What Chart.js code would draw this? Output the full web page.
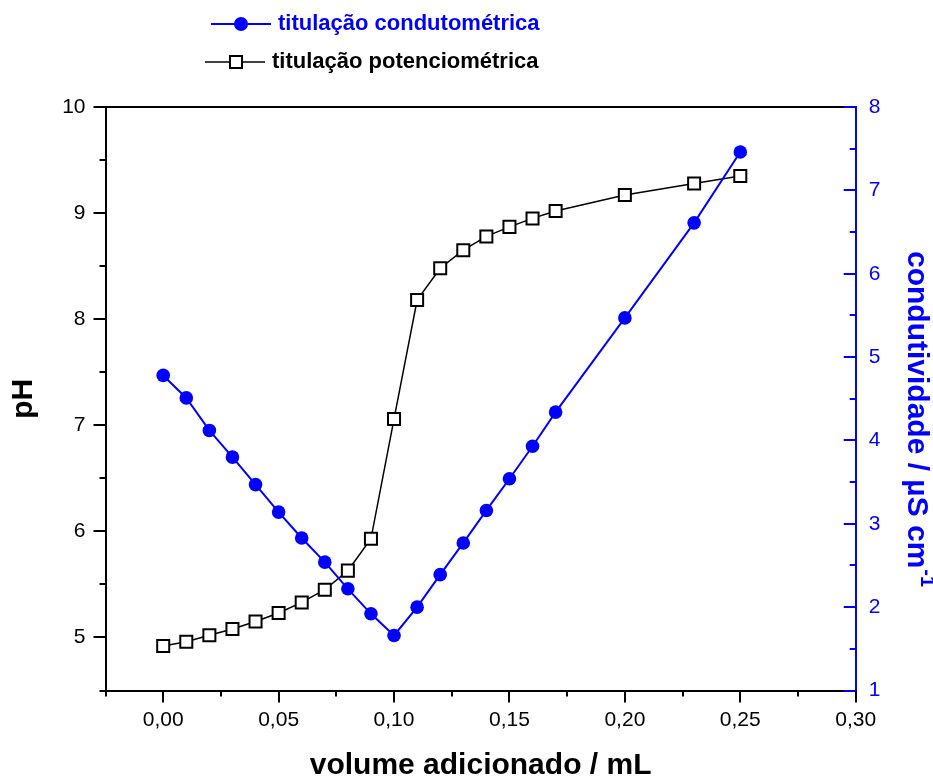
<!DOCTYPE html>
<html>
<head>
<meta charset="utf-8">
<script src="https://cdn.jsdelivr.net/npm/chart.js@4.4.1/dist/chart.umd.min.js"></script>
<style>
  html, body { margin: 0; padding: 0; background: #fff; }
  canvas { display: block; }
</style>
</head>
<body>
<canvas id="titulacao" width="933" height="779"></canvas>
<script>
// volume of titrant (mL) and the two measured curves
const volume = [0.00, 0.01, 0.02, 0.03, 0.04, 0.05, 0.06, 0.07, 0.08, 0.09, 0.10,
  0.11, 0.12, 0.13, 0.14, 0.15, 0.16, 0.17, 0.20, 0.23, 0.25];
const ph = [4.92, 4.96, 5.02, 5.08, 5.15, 5.23, 5.33, 5.45, 5.63, 5.93, 7.06,
  8.18, 8.48, 8.65, 8.78, 8.87, 8.95, 9.02, 9.17, 9.28, 9.35];
const condutividade = [4.78, 4.51, 4.12, 3.80, 3.47, 3.14, 2.83, 2.54, 2.22, 1.92, 1.66,
  2.00, 2.39, 2.77, 3.16, 3.54, 3.93, 4.34, 5.47, 6.61, 7.46];

// labelled ticks
const volumeTicks = [0, 0.05, 0.10, 0.15, 0.20, 0.25, 0.30];
const phTicks = [5, 6, 7, 8, 9, 10];
const condTicks = [1, 2, 3, 4, 5, 6, 7, 8];

const BLUE = "#0000ff";
const FONT = "'Liberation Sans', Arial, sans-serif";

function hasTick(list, v) {
  return list.some((t) => Math.abs(t - v) < 1e-9);
}

// legend: line - marker - line, then the label
const lineLegend = {
  id: "lineLegend",
  afterDraw(chart) {
    const ctx = chart.ctx;
    const rows = [
      { x0: 211, x1: 271, mx: 241, y: 24, tx: 278 },
      { x0: 205, x1: 265, mx: 236, y: 62, tx: 272 },
    ];
    ctx.save();
    chart.data.datasets.forEach((ds, i) => {
      const r = rows[i];
      ctx.strokeStyle = ds.borderColor;
      ctx.lineWidth = ds.borderWidth;
      ctx.beginPath();
      ctx.moveTo(r.x0, r.y);
      ctx.lineTo(r.x1, r.y);
      ctx.stroke();
      if (ds.pointStyle === "rect") {
        ctx.fillStyle = "#fff";
        ctx.strokeStyle = ds.pointBorderColor;
        ctx.lineWidth = 2;
        ctx.fillRect(r.mx - 6, r.y - 6, 12, 12);
        ctx.strokeRect(r.mx - 6, r.y - 6, 12, 12);
      } else {
        ctx.fillStyle = ds.pointBackgroundColor;
        ctx.beginPath();
        ctx.arc(r.mx, r.y, 7, 0, Math.PI * 2);
        ctx.fill();
      }
      ctx.fillStyle = ds.borderColor;
      ctx.font = "bold 22px " + FONT;
      ctx.textBaseline = "middle";
      ctx.textAlign = "left";
      ctx.fillText(ds.label, r.tx, r.y);
    });
    ctx.restore();
  },
};

// top frame line, tick marks and the right axis title
const frame = {
  id: "frame",
  afterDraw(chart) {
    const { ctx, chartArea: a, scales } = chart;
    ctx.save();
    ctx.lineWidth = 2;
    ctx.strokeStyle = "#000";
    ctx.beginPath();
    ctx.moveTo(a.left, a.top);
    ctx.lineTo(a.right, a.top);
    ctx.stroke();

    // x ticks point down
    scales.x.ticks.forEach((t) => {
      const px = Math.round(scales.x.getPixelForValue(t.value));
      const len = t.label ? 12 : 6;
      ctx.beginPath();
      ctx.moveTo(px, a.bottom);
      ctx.lineTo(px, a.bottom + len);
      ctx.stroke();
    });
    // pH ticks point left
    scales.y.ticks.forEach((t) => {
      const py = Math.round(scales.y.getPixelForValue(t.value));
      const len = t.label ? 12 : 6;
      ctx.beginPath();
      ctx.moveTo(a.left - len, py);
      ctx.lineTo(a.left, py);
      ctx.stroke();
    });
    // conductivity ticks point into the plot
    ctx.strokeStyle = BLUE;
    scales.y1.ticks.forEach((t) => {
      const py = Math.round(scales.y1.getPixelForValue(t.value));
      const len = t.label ? 12 : 6;
      ctx.beginPath();
      ctx.moveTo(a.right - len, py);
      ctx.lineTo(a.right, py);
      ctx.stroke();
    });

    // right title with the superscript unit
    ctx.translate(916, 251);
    ctx.rotate(Math.PI / 2);
    ctx.fillStyle = BLUE;
    ctx.textAlign = "left";
    ctx.textBaseline = "middle";
    ctx.font = "bold 30px " + FONT;
    const main = "condutividade / \u00b5S cm";
    ctx.fillText(main, 0, 0);
    const w = ctx.measureText(main).width;
    ctx.font = "bold 20px " + FONT;
    ctx.fillText("-1", w + 1, -11);
    ctx.restore();
  },
};

new Chart(document.getElementById("titulacao"), {
  type: "scatter",
  data: {
    datasets: [
      {
        label: "titulação condutométrica",
        data: volume.map((v, i) => ({ x: v, y: condutividade[i] })),
        yAxisID: "y1",
        showLine: true,
        borderColor: BLUE,
        borderWidth: 2,
        pointStyle: "circle",
        pointRadius: 6.8,
        pointBackgroundColor: BLUE,
        pointBorderColor: BLUE,
        pointBorderWidth: 0,
      },
      {
        label: "titulação potenciométrica",
        data: volume.map((v, i) => ({ x: v, y: ph[i] })),
        yAxisID: "y",
        showLine: true,
        borderColor: "#000",
        borderWidth: 1.5,
        pointStyle: "rect",
        pointRadius: 8.5,
        pointBackgroundColor: "#fff",
        pointBorderColor: "#000",
        pointBorderWidth: 2,
      },
    ],
  },
  options: {
    responsive: false,
    animation: false,
    layout: { padding: { top: 107, left: 0, right: 0, bottom: 0 } },
    plugins: {
      legend: { display: false },
      tooltip: { enabled: false },
    },
    scales: {
      x: {
        type: "linear",
        min: -0.025,
        max: 0.3,
        grid: { display: false, drawTicks: false },
        border: { display: true, color: "#000", width: 2 },
        ticks: {
          stepSize: 0.025,
          autoSkip: false,
          maxRotation: 0,
          padding: 17,
          color: "#000",
          font: { family: FONT, size: 21 },
          callback: (v) => (hasTick(volumeTicks, v) ? v.toFixed(2).replace(".", ",") : ""),
        },
        title: {
          display: true,
          text: "volume adicionado / mL",
          color: "#000",
          font: { family: FONT, size: 30, weight: "bold", lineHeight: 0.9 },
          padding: { top: 0, bottom: 0 },
        },
        afterFit: (s) => { s.height = 88.5; },
      },
      y: {
        position: "left",
        min: 4.5,
        max: 10,
        grid: { display: false, drawTicks: false },
        border: { display: true, color: "#000", width: 2 },
        ticks: {
          stepSize: 0.5,
          autoSkip: false,
          padding: 20,
          color: "#000",
          font: { family: FONT, size: 21 },
          callback: (v) => (hasTick(phTicks, v) ? String(v) : ""),
        },
        title: {
          display: true,
          text: "pH",
          color: "#000",
          font: { family: FONT, size: 30, weight: "bold" },
          padding: { top: 6, bottom: 0 },
        },
        afterFit: (s) => { s.width = 105.5; },
      },
      y1: {
        position: "right",
        min: 1,
        max: 8,
        grid: { display: false, drawTicks: false },
        border: { display: true, color: BLUE, width: 2 },
        ticks: {
          stepSize: 0.5,
          autoSkip: false,
          padding: 13,
          color: BLUE,
          font: { family: FONT, size: 21 },
          callback: (v) => (hasTick(condTicks, v) ? String(v) : ""),
        },
        afterFit: (s) => { s.width = 77.3; },
      },
    },
  },
  plugins: [lineLegend, frame],
});
</script>
</body>
</html>
